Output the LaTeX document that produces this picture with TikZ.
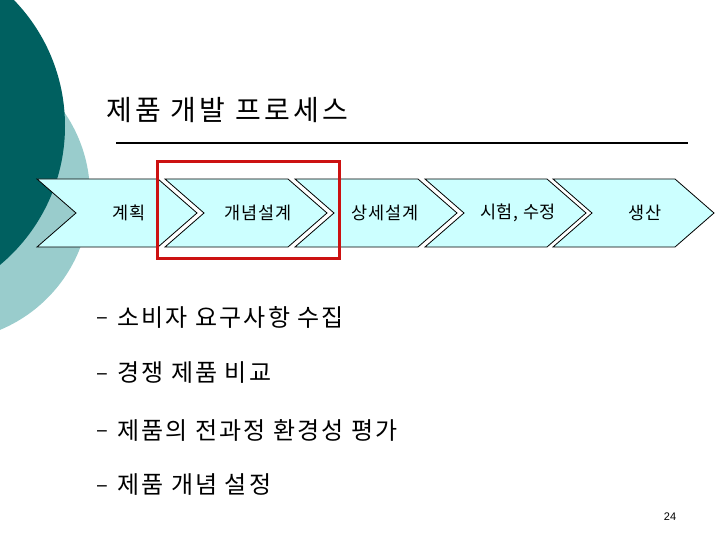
\documentclass[tikz,border=0pt]{standalone}
\usepackage{fontspec}
\setmainfont{Noto Sans CJK KR}
\newfontfamily\titlefont[LetterSpace=12]{Noto Sans CJK KR}
\newfontfamily\bulletfont[LetterSpace=9]{Noto Sans CJK KR}
\newfontfamily\chevfont[LetterSpace=4]{Noto Sans CJK KR}
\newfontfamily\pgnumfont{Liberation Sans}
\definecolor{darkteal}{RGB}{0,96,96}
\definecolor{lightteal}{RGB}{153,204,204}
\definecolor{chevfill}{RGB}{204,255,255}
\definecolor{hlred}{RGB}{204,17,17}
\tikzset{
  chev/.style={fill=chevfill, draw=black, line width=0.8pt, line join=miter},
  chevlabel/.style={inner sep=0pt, font=\chevfont\fontsize{17.5}{20}\selectfont},
  titletext/.style={inner sep=0pt, anchor=west, font=\titlefont\fontsize{28}{32}\selectfont},
  bullettext/.style={inner sep=0pt, anchor=west, font=\bulletfont\fontsize{24}{28}\selectfont},
  dashtext/.style={inner sep=0pt, font=\fontsize{22}{26}\selectfont},
}
\begin{document}
\begin{tikzpicture}[x=1pt, y=-1pt]
\useasboundingbox (0,0) rectangle (720,540);
\begin{scope}
  \clip (0,0) rectangle (720,540);
  \fill[lightteal] (-56,195) circle (146);
  \fill[darkteal] (-116,126) circle (181);
\end{scope}
% title
\node[titletext] (title) at (106,110) {제품 개발 프로세스};
\coordinate (ruleA) at (116,143);
\coordinate (ruleB) at (688,143);
\draw[line width=2pt] (ruleA) -- (ruleB);
% chevrons
\foreach \L/\W [count=\i] in {37/121,165/123,295/123,425/122,553/122}{
  \draw[chev] (\L,179) -- (\L+\W,179) -- (\L+\W+39,213) -- (\L+\W,247) -- (\L,247) -- (\L+39,213) -- cycle;
}
\node[chevlabel] (c1) at (129,213) {계획};
\node[chevlabel] (c2) at (258,213) {개념설계};
\node[chevlabel] (c3) at (385,213) {상세설계};
\node[chevlabel] (c4) at (518,213) {시험, 수정};
\node[chevlabel] (c5) at (645,213) {생산};
% highlight
\draw[hlred, line width=3pt] (157,162) rectangle (339,258);
% bullets
\foreach \y/\t [count=\i] in {317/소비자 요구사항 수집, 373/경쟁 제품 비교, 430/제품의 전과정 환경성 평가, 485/제품 개념 설정}{
  \node[bullettext] (b\i) at (117,\y) {\t};
  \node[dashtext, anchor=base east] (d\i) at ([xshift=-9pt]b\i.base west) {\raisebox{1.5pt}{–}};
}
% page number
\node[inner sep=0pt, font=\pgnumfont\fontsize{11}{13}\selectfont] (pg) at (670,517) {24};
\end{tikzpicture}
\end{document}
